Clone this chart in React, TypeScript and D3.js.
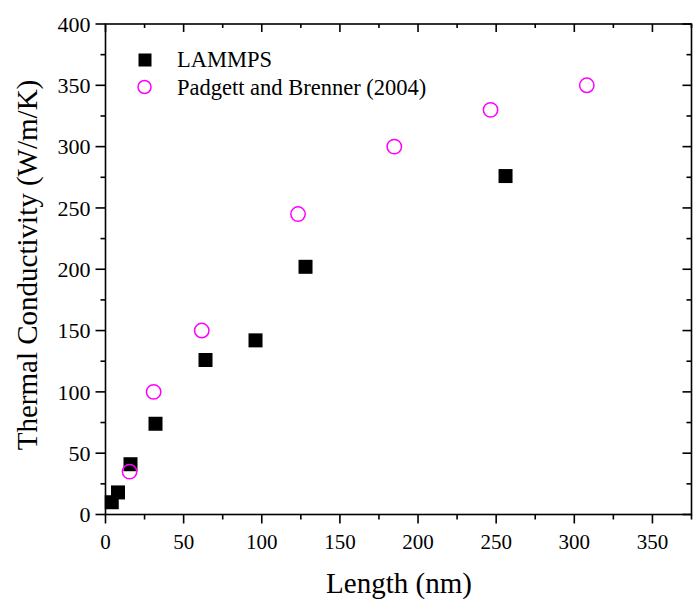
import React from "react";
import * as d3 from "d3";

const lammpsLength = [4, 8, 16, 32, 64, 96, 128, 256];
const lammpsK = [10, 18, 41, 74, 126, 142, 202, 276];
const padgettLength = [15.4, 30.8, 61.6, 123.2, 184.8, 246.4, 308];
const padgettK = [35, 100, 150, 245, 300, 330, 350];
const xTicks = [0, 50, 100, 150, 200, 250, 300, 350];
const yTicks = [0, 50, 100, 150, 200, 250, 300, 350, 400];
const seriesNames = ["LAMMPS", "Padgett and Brenner (2004)"];

const W = 693, H = 603;
const L = 105.5, R = 691.5, T = 24, B = 514.5;
const FONT = "'Liberation Serif', 'Times New Roman', serif";

export default function App() {
  const x = d3.scaleLinear().domain([0, 375]).range([L, R]);
  const y = d3.scaleLinear().domain([0, 400]).range([B, T]);
  const xMinor = d3.range(0, 376, 25).filter((v) => v % 50 !== 0);
  const yMinor = d3.range(0, 401, 25).filter((v) => v % 50 !== 0);
  const sq = 14;
  const axisStroke = 1.6;
  return (
    <svg width={W} height={H} style={{ position: "absolute", left: 0, top: 0 }}>
      <rect x={0} y={0} width={W} height={H} fill="#fff" />
      {/* frame */}
      <rect x={L} y={T} width={R - L} height={B - T} fill="none" stroke="#000" strokeWidth={axisStroke} />
      {xTicks.map((v) => (
        <g key={"xb" + v}>
          <line x1={x(v)} x2={x(v)} y1={B} y2={B + 9} stroke="#000" strokeWidth={axisStroke} />
          <line x1={x(v)} x2={x(v)} y1={T} y2={T + 8} stroke="#000" strokeWidth={axisStroke} />
          <text x={x(v)} y={B + 34} textAnchor="middle" fontFamily={FONT} fontSize={21} fill="#000">{v}</text>
        </g>
      ))}
      {xMinor.map((v) => (
        <g key={"xm" + v}>
          <line x1={x(v)} x2={x(v)} y1={B} y2={B + 5} stroke="#000" strokeWidth={axisStroke} />
          <line x1={x(v)} x2={x(v)} y1={T} y2={T + 4} stroke="#000" strokeWidth={axisStroke} />
        </g>
      ))}
      {yTicks.map((v) => (
        <g key={"yt" + v}>
          <line x1={L - 10} x2={L} y1={y(v)} y2={y(v)} stroke="#000" strokeWidth={axisStroke} />
          <line x1={R - 9} x2={R} y1={y(v)} y2={y(v)} stroke="#000" strokeWidth={axisStroke} />
          <text x={L - 15} y={y(v)} dy="0.35em" textAnchor="end" fontFamily={FONT} fontSize={22} fill="#000">{v}</text>
        </g>
      ))}
      {yMinor.map((v) => (
        <g key={"ym" + v}>
          <line x1={L - 5} x2={L} y1={y(v)} y2={y(v)} stroke="#000" strokeWidth={axisStroke} />
          <line x1={R - 5} x2={R} y1={y(v)} y2={y(v)} stroke="#000" strokeWidth={axisStroke} />
        </g>
      ))}
      {/* axis titles */}
      <text x={399} y={593} textAnchor="middle" fontFamily={FONT} fontSize={29} fill="#000">Length (nm)</text>
      <text transform={`translate(37, 265) rotate(-90)`} textAnchor="middle" fontFamily={FONT} fontSize={29} fill="#000">
        Thermal Conductivity (W/m/K)
      </text>
      {/* data */}
      {lammpsLength.map((v, i) => (
        <rect key={"l" + i} x={x(v) - sq / 2} y={y(lammpsK[i]) - sq / 2} width={sq} height={sq} fill="#000" />
      ))}
      {padgettLength.map((v, i) => (
        <circle key={"p" + i} cx={x(v)} cy={y(padgettK[i])} r={7.2} fill="none" stroke="#ff00ff" strokeWidth={1.5} />
      ))}
      {/* legend */}
      <rect x={145 - 6.5} y={60 - 6.5} width={13} height={13} fill="#000" />
      <text x={177} y={67} fontFamily={FONT} fontSize={22.5} fill="#000">{seriesNames[0]}</text>
      <circle cx={144.5} cy={87} r={6.5} fill="none" stroke="#ff00ff" strokeWidth={1.5} />
      <text x={177} y={95} fontFamily={FONT} fontSize={22.5} fill="#000">{seriesNames[1]}</text>
    </svg>
  );
}
